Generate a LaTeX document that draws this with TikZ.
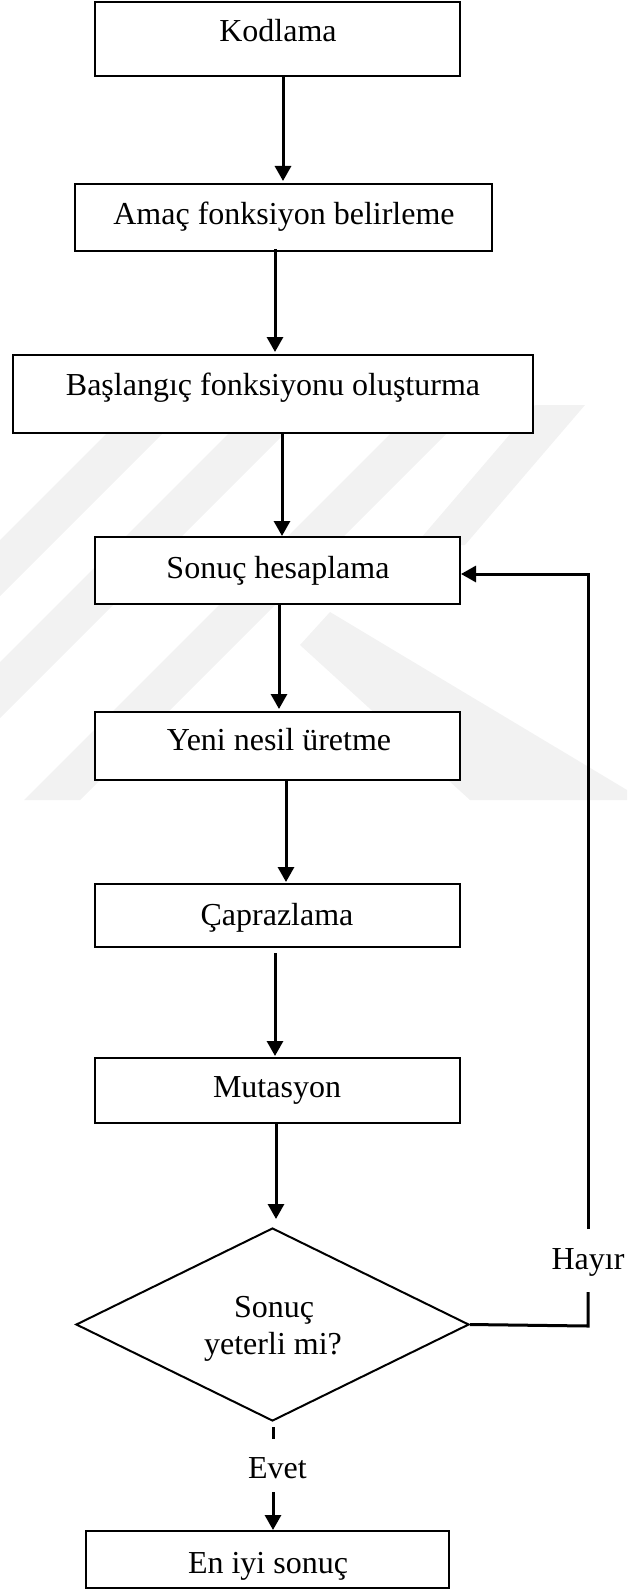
\documentclass[tikz,border=0pt]{standalone}
\usepackage{fontspec}
\setmainfont{Liberation Serif}
\usetikzlibrary{arrows.meta,shapes.geometric,calc}
\begin{document}
\begin{tikzpicture}[x=0.5pt,y=-0.5pt,
  box/.style={draw,fill=white,line width=1pt,inner sep=0pt,rectangle},
  lbl/.style={anchor=base,inner sep=0pt,font=\fontsize{16}{19}\selectfont},
  arr/.style={line width=1.5pt,-{Triangle[width=8pt,length=7.5pt]}},
  ln/.style={line width=1.5pt},
  wm/.style={fill=black!5,draw=none}]
\useasboundingbox (0,0) rectangle (627,1589);
% faint watermark
\fill[wm] (0,540) -- (0,596) -- (163,433) -- (107,433) -- cycle;
\fill[wm] (0,662) -- (0,718) -- (285,433) -- (229,433) -- cycle;
\fill[wm] (24,800) -- (80,800) -- (447,433) -- (391,433) -- cycle;
\fill[wm] (415,545) -- (465,545) -- (585,405) -- (535,405) -- cycle;
\fill[wm] (300,645) -- (330,612) -- (627,790) -- (627,800) -- (470,800) -- cycle;
% boxes
\node[box,minimum width=182.5pt,minimum height=37pt] (k) at (277.5,39) {};
\node[box,minimum width=208.5pt,minimum height=33.5pt] (a) at (283.5,217.5) {};
\node[box,minimum width=260pt,minimum height=39pt] (b) at (273,394) {};
\node[box,minimum width=182.5pt,minimum height=33.5pt] (s) at (277.5,570.5) {};
\node[box,minimum width=182.5pt,minimum height=34pt] (y) at (277.5,746) {};
\node[box,minimum width=182.5pt,minimum height=31.5pt] (c) at (277.5,915.5) {};
\node[box,minimum width=182.5pt,minimum height=32.5pt] (m) at (277.5,1090.5) {};
\node[draw,fill=white,line width=1pt,diamond,inner sep=0pt,minimum width=196.5pt,minimum height=96.5pt] (d) at (272.5,1324.5) {};
\node[box,minimum width=181.5pt,minimum height=28.5pt] (e) at (267.5,1559.5) {};
% labels
\node[lbl] (kt) at (278,42) {Kodlama};
\node[lbl] (at) at (284,225) {Amaç fonksiyon belirleme};
\node[lbl] (bt) at (273,395) {Başlangıç fonksiyonu oluşturma};
\node[lbl] (st) at (278,578) {Sonuç hesaplama};
\node[lbl] (yt) at (279,750) {Yeni nesil üretme};
\node[lbl] (ct) at (277,925) {Çaprazlama};
\node[lbl] (mt) at (277,1097) {Mutasyon};
\node[lbl] (dt1) at (274,1317) {Sonuç};
\node[lbl] (dt2) at (273,1354) {yeterli mi?};
\node[lbl] (et) at (268,1573) {En iyi sonuç};
\node[lbl] (hay) at (588,1269) {Hayır};
\node[lbl] (ev) at (277.5,1478) {Evet};
% connectors
\draw[arr] ([xshift=2.75pt]k.south) -- ([xshift=-0.25pt,yshift=1pt]a.north);
\draw[arr] ([xshift=-4.25pt,yshift=1.5pt]a.south) -- ([xshift=1pt,yshift=1pt]b.north);
\draw[arr] ([xshift=4.5pt]b.south) -- ([xshift=2.25pt]s.north);
\draw[arr] ([xshift=0.75pt]s.south) -- ([xshift=0.75pt,yshift=1pt]y.north);
\draw[arr] ([xshift=4.25pt,yshift=1pt]y.south) -- ([xshift=4.25pt,yshift=0.5pt]c.north);
\draw[arr] ([xshift=-1.25pt,yshift=-2.5pt]c.south) -- ([xshift=-1.25pt,yshift=0.5pt]m.north);
\draw[arr] ([xshift=-0.75pt]m.south) -- ([xshift=1.75pt,yshift=4pt]d.north);
\coordinate (h1) at (588,1326);
\coordinate (h2) at (588,1292);
\coordinate (h3) at (588,1229);
\coordinate (h4) at (588,574);
\draw[ln] (d.east) -- (h1) -- (h2);
\draw[arr] (h3) -- (h4) -- (s.east |- h4);
\coordinate (ev1) at (273,1439);
\coordinate (ev2) at (273,1492);
\draw[ln] ([xshift=0.25pt,yshift=-2.5pt]d.south) -- (ev1);
\draw[arr] (ev2) -- (e.north -| ev2);
\end{tikzpicture}
\end{document}
